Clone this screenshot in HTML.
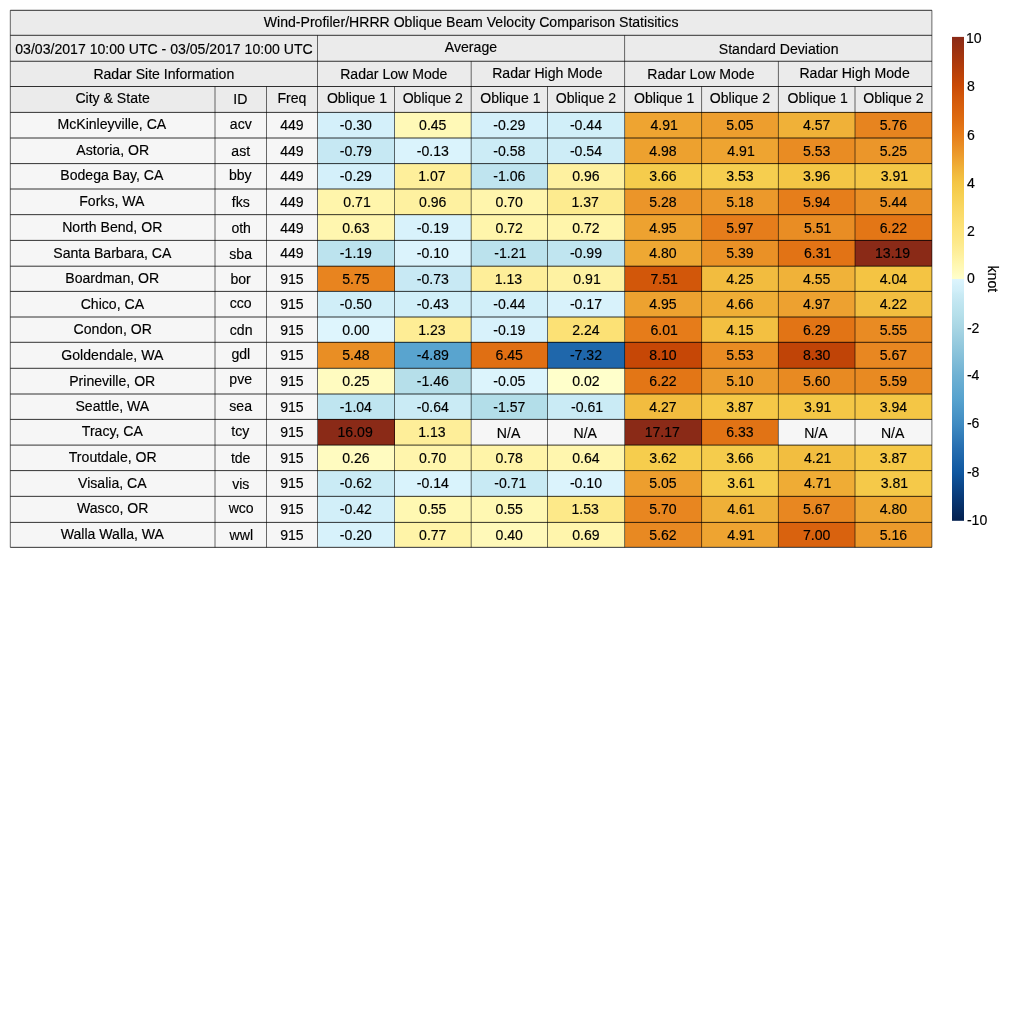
<!DOCTYPE html>
<html lang="en"><head><meta charset="utf-8"><title>Wind-Profiler/HRRR Oblique Beam Velocity Comparison Statisitics</title>
<style>html,body{margin:0;padding:0;background:#fff;}svg{display:block;}text{font-family:'Liberation Sans', sans-serif;font-size:14.08px;fill:#000;stroke:#000;stroke-width:0.15px;}</style></head><body>
<svg width="1024" height="1024" viewBox="0 0 1024 1024">
<defs><linearGradient id="cb" x1="0" y1="0" x2="0" y2="1">
<stop offset="0.0000" stop-color="#8a2a17"/>
<stop offset="0.0500" stop-color="#aa380c"/>
<stop offset="0.1000" stop-color="#c94905"/>
<stop offset="0.1250" stop-color="#d2570a"/>
<stop offset="0.1500" stop-color="#d9620e"/>
<stop offset="0.1750" stop-color="#df6e12"/>
<stop offset="0.2000" stop-color="#e67c1a"/>
<stop offset="0.2250" stop-color="#e98d24"/>
<stop offset="0.2500" stop-color="#eda02f"/>
<stop offset="0.2750" stop-color="#f0b43a"/>
<stop offset="0.3000" stop-color="#f4c544"/>
<stop offset="0.3250" stop-color="#f6cf50"/>
<stop offset="0.3500" stop-color="#f9d660"/>
<stop offset="0.4000" stop-color="#fde47c"/>
<stop offset="0.4250" stop-color="#fde98a"/>
<stop offset="0.4500" stop-color="#fef09e"/>
<stop offset="0.4700" stop-color="#fff7b0"/>
<stop offset="0.4875" stop-color="#fffbc0"/>
<stop offset="0.5000" stop-color="#ffffcc"/>
<stop offset="0.5000" stop-color="#def5fd"/>
<stop offset="0.5150" stop-color="#d4f0fa"/>
<stop offset="0.5250" stop-color="#d0eef8"/>
<stop offset="0.5310" stop-color="#caebf5"/>
<stop offset="0.5400" stop-color="#c6e8f3"/>
<stop offset="0.5500" stop-color="#c0e5f0"/>
<stop offset="0.5750" stop-color="#b5dfea"/>
<stop offset="0.6000" stop-color="#a9d6e4"/>
<stop offset="0.6500" stop-color="#8cc4db"/>
<stop offset="0.7000" stop-color="#6fb1d3"/>
<stop offset="0.7500" stop-color="#56a2ce"/>
<stop offset="0.8000" stop-color="#3f8bc2"/>
<stop offset="0.8500" stop-color="#266eb0"/>
<stop offset="0.9000" stop-color="#0f57a0"/>
<stop offset="0.9500" stop-color="#083a78"/>
<stop offset="1.0000" stop-color="#04204f"/>
</linearGradient></defs>
<rect x="0" y="0" width="1024" height="1024" fill="#ffffff"/>
<g shape-rendering="crispEdges">
<rect x="10.30" y="10.30" width="921.60" height="25.00" fill="#ebebeb"/>
<rect x="10.30" y="35.30" width="307.20" height="25.95" fill="#ebebeb"/>
<rect x="317.50" y="35.30" width="307.10" height="25.95" fill="#ebebeb"/>
<rect x="624.60" y="35.30" width="307.30" height="25.95" fill="#ebebeb"/>
<rect x="10.30" y="61.25" width="307.20" height="25.25" fill="#ebebeb"/>
<rect x="317.50" y="61.25" width="153.70" height="25.25" fill="#ebebeb"/>
<rect x="471.20" y="61.25" width="153.40" height="25.25" fill="#ebebeb"/>
<rect x="624.60" y="61.25" width="153.80" height="25.25" fill="#ebebeb"/>
<rect x="778.40" y="61.25" width="153.50" height="25.25" fill="#ebebeb"/>
<rect x="10.30" y="86.50" width="204.70" height="25.90" fill="#ebebeb"/>
<rect x="215.00" y="86.50" width="51.50" height="25.90" fill="#ebebeb"/>
<rect x="266.50" y="86.50" width="51.00" height="25.90" fill="#ebebeb"/>
<rect x="317.50" y="86.50" width="77.00" height="25.90" fill="#ebebeb"/>
<rect x="394.50" y="86.50" width="76.70" height="25.90" fill="#ebebeb"/>
<rect x="471.20" y="86.50" width="76.30" height="25.90" fill="#ebebeb"/>
<rect x="547.50" y="86.50" width="77.10" height="25.90" fill="#ebebeb"/>
<rect x="624.60" y="86.50" width="77.00" height="25.90" fill="#ebebeb"/>
<rect x="701.60" y="86.50" width="76.80" height="25.90" fill="#ebebeb"/>
<rect x="778.40" y="86.50" width="76.60" height="25.90" fill="#ebebeb"/>
<rect x="855.00" y="86.50" width="76.90" height="25.90" fill="#ebebeb"/>
<rect x="10.30" y="112.40" width="204.70" height="25.60" fill="#f6f6f6"/>
<rect x="215.00" y="112.40" width="51.50" height="25.60" fill="#f6f6f6"/>
<rect x="266.50" y="112.40" width="51.00" height="25.60" fill="#f6f6f6"/>
<rect x="317.50" y="112.40" width="77.00" height="25.60" fill="#d4f0fa"/>
<rect x="394.50" y="112.40" width="76.70" height="25.60" fill="#fff9b7"/>
<rect x="471.20" y="112.40" width="76.30" height="25.60" fill="#d4f0fa"/>
<rect x="547.50" y="112.40" width="77.10" height="25.60" fill="#d1eff9"/>
<rect x="624.60" y="112.40" width="77.00" height="25.60" fill="#eea431"/>
<rect x="701.60" y="112.40" width="76.80" height="25.60" fill="#ed9e2e"/>
<rect x="778.40" y="112.40" width="76.60" height="25.60" fill="#f0b138"/>
<rect x="855.00" y="112.40" width="76.90" height="25.60" fill="#e7841f"/>
<rect x="10.30" y="138.00" width="204.70" height="25.60" fill="#f6f6f6"/>
<rect x="215.00" y="138.00" width="51.50" height="25.60" fill="#f6f6f6"/>
<rect x="266.50" y="138.00" width="51.00" height="25.60" fill="#f6f6f6"/>
<rect x="317.50" y="138.00" width="77.00" height="25.60" fill="#c6e8f3"/>
<rect x="394.50" y="138.00" width="76.70" height="25.60" fill="#daf3fc"/>
<rect x="471.20" y="138.00" width="76.30" height="25.60" fill="#ccecf6"/>
<rect x="547.50" y="138.00" width="77.10" height="25.60" fill="#ceedf7"/>
<rect x="624.60" y="138.00" width="77.00" height="25.60" fill="#eda12f"/>
<rect x="701.60" y="138.00" width="76.80" height="25.60" fill="#eea431"/>
<rect x="778.40" y="138.00" width="76.60" height="25.60" fill="#e98c23"/>
<rect x="855.00" y="138.00" width="76.90" height="25.60" fill="#eb962a"/>
<rect x="10.30" y="163.60" width="204.70" height="25.40" fill="#f6f6f6"/>
<rect x="215.00" y="163.60" width="51.50" height="25.40" fill="#f6f6f6"/>
<rect x="266.50" y="163.60" width="51.00" height="25.40" fill="#f6f6f6"/>
<rect x="317.50" y="163.60" width="77.00" height="25.40" fill="#d4f0fa"/>
<rect x="394.50" y="163.60" width="76.70" height="25.40" fill="#feef9b"/>
<rect x="471.20" y="163.60" width="76.30" height="25.40" fill="#bfe4ef"/>
<rect x="547.50" y="163.60" width="77.10" height="25.40" fill="#fef1a0"/>
<rect x="624.60" y="163.60" width="77.00" height="25.40" fill="#f5cc4c"/>
<rect x="701.60" y="163.60" width="76.80" height="25.40" fill="#f6ce4f"/>
<rect x="778.40" y="163.60" width="76.60" height="25.40" fill="#f4c645"/>
<rect x="855.00" y="163.60" width="76.90" height="25.40" fill="#f4c746"/>
<rect x="10.30" y="189.00" width="204.70" height="25.65" fill="#f6f6f6"/>
<rect x="215.00" y="189.00" width="51.50" height="25.65" fill="#f6f6f6"/>
<rect x="266.50" y="189.00" width="51.00" height="25.65" fill="#f6f6f6"/>
<rect x="317.50" y="189.00" width="77.00" height="25.65" fill="#fff5ab"/>
<rect x="394.50" y="189.00" width="76.70" height="25.65" fill="#fef1a0"/>
<rect x="471.20" y="189.00" width="76.30" height="25.65" fill="#fff5ac"/>
<rect x="547.50" y="189.00" width="77.10" height="25.65" fill="#fdeb8f"/>
<rect x="624.60" y="189.00" width="77.00" height="25.65" fill="#eb9529"/>
<rect x="701.60" y="189.00" width="76.80" height="25.65" fill="#ec992b"/>
<rect x="778.40" y="189.00" width="76.60" height="25.65" fill="#e67e1b"/>
<rect x="855.00" y="189.00" width="76.90" height="25.65" fill="#e98f25"/>
<rect x="10.30" y="214.65" width="204.70" height="25.75" fill="#f6f6f6"/>
<rect x="215.00" y="214.65" width="51.50" height="25.75" fill="#f6f6f6"/>
<rect x="266.50" y="214.65" width="51.00" height="25.75" fill="#f6f6f6"/>
<rect x="317.50" y="214.65" width="77.00" height="25.75" fill="#fff6af"/>
<rect x="394.50" y="214.65" width="76.70" height="25.75" fill="#d8f2fb"/>
<rect x="471.20" y="214.65" width="76.30" height="25.75" fill="#fff5ab"/>
<rect x="547.50" y="214.65" width="77.10" height="25.75" fill="#fff5ab"/>
<rect x="624.60" y="214.65" width="77.00" height="25.75" fill="#eda230"/>
<rect x="701.60" y="214.65" width="76.80" height="25.75" fill="#e67d1b"/>
<rect x="778.40" y="214.65" width="76.60" height="25.75" fill="#e98d24"/>
<rect x="855.00" y="214.65" width="76.90" height="25.75" fill="#e37616"/>
<rect x="10.30" y="240.40" width="204.70" height="25.80" fill="#f6f6f6"/>
<rect x="215.00" y="240.40" width="51.50" height="25.80" fill="#f6f6f6"/>
<rect x="266.50" y="240.40" width="51.00" height="25.80" fill="#f6f6f6"/>
<rect x="317.50" y="240.40" width="77.00" height="25.80" fill="#bce3ee"/>
<rect x="394.50" y="240.40" width="76.70" height="25.80" fill="#dbf3fc"/>
<rect x="471.20" y="240.40" width="76.30" height="25.80" fill="#bbe2ed"/>
<rect x="547.50" y="240.40" width="77.10" height="25.80" fill="#c0e5f0"/>
<rect x="624.60" y="240.40" width="77.00" height="25.80" fill="#eea833"/>
<rect x="701.60" y="240.40" width="76.80" height="25.80" fill="#ea9126"/>
<rect x="778.40" y="240.40" width="76.60" height="25.80" fill="#e27315"/>
<rect x="855.00" y="240.40" width="76.90" height="25.80" fill="#8a2a17"/>
<rect x="10.30" y="266.20" width="204.70" height="25.20" fill="#f6f6f6"/>
<rect x="215.00" y="266.20" width="51.50" height="25.20" fill="#f6f6f6"/>
<rect x="266.50" y="266.20" width="51.00" height="25.20" fill="#f6f6f6"/>
<rect x="317.50" y="266.20" width="77.00" height="25.20" fill="#e8841f"/>
<rect x="394.50" y="266.20" width="76.70" height="25.20" fill="#c8e9f4"/>
<rect x="471.20" y="266.20" width="76.30" height="25.20" fill="#feee99"/>
<rect x="547.50" y="266.20" width="77.10" height="25.20" fill="#fef2a2"/>
<rect x="624.60" y="266.20" width="77.00" height="25.20" fill="#d2570a"/>
<rect x="701.60" y="266.20" width="76.80" height="25.20" fill="#f2bc3f"/>
<rect x="778.40" y="266.20" width="76.60" height="25.20" fill="#f0b239"/>
<rect x="855.00" y="266.20" width="76.90" height="25.20" fill="#f4c443"/>
<rect x="10.30" y="291.40" width="204.70" height="25.60" fill="#f6f6f6"/>
<rect x="215.00" y="291.40" width="51.50" height="25.60" fill="#f6f6f6"/>
<rect x="266.50" y="291.40" width="51.00" height="25.60" fill="#f6f6f6"/>
<rect x="317.50" y="291.40" width="77.00" height="25.60" fill="#d0eef8"/>
<rect x="394.50" y="291.40" width="76.70" height="25.60" fill="#d1eff9"/>
<rect x="471.20" y="291.40" width="76.30" height="25.60" fill="#d1eff9"/>
<rect x="547.50" y="291.40" width="77.10" height="25.60" fill="#d8f2fb"/>
<rect x="624.60" y="291.40" width="77.00" height="25.60" fill="#eda230"/>
<rect x="701.60" y="291.40" width="76.80" height="25.60" fill="#efae36"/>
<rect x="778.40" y="291.40" width="76.60" height="25.60" fill="#eda130"/>
<rect x="855.00" y="291.40" width="76.90" height="25.60" fill="#f2be40"/>
<rect x="10.30" y="317.00" width="204.70" height="25.30" fill="#f6f6f6"/>
<rect x="215.00" y="317.00" width="51.50" height="25.30" fill="#f6f6f6"/>
<rect x="266.50" y="317.00" width="51.00" height="25.30" fill="#f6f6f6"/>
<rect x="317.50" y="317.00" width="77.00" height="25.30" fill="#def5fd"/>
<rect x="394.50" y="317.00" width="76.70" height="25.30" fill="#feed95"/>
<rect x="471.20" y="317.00" width="76.30" height="25.30" fill="#d8f2fb"/>
<rect x="547.50" y="317.00" width="77.10" height="25.30" fill="#fce175"/>
<rect x="624.60" y="317.00" width="77.00" height="25.30" fill="#e67c1a"/>
<rect x="701.60" y="317.00" width="76.80" height="25.30" fill="#f3c041"/>
<rect x="778.40" y="317.00" width="76.60" height="25.30" fill="#e27415"/>
<rect x="855.00" y="317.00" width="76.90" height="25.30" fill="#e98b23"/>
<rect x="10.30" y="342.30" width="204.70" height="26.00" fill="#f6f6f6"/>
<rect x="215.00" y="342.30" width="51.50" height="26.00" fill="#f6f6f6"/>
<rect x="266.50" y="342.30" width="51.00" height="26.00" fill="#f6f6f6"/>
<rect x="317.50" y="342.30" width="77.00" height="26.00" fill="#e98e24"/>
<rect x="394.50" y="342.30" width="76.70" height="26.00" fill="#59a4cf"/>
<rect x="471.20" y="342.30" width="76.30" height="26.00" fill="#e06f13"/>
<rect x="547.50" y="342.30" width="77.10" height="26.00" fill="#1f67ab"/>
<rect x="624.60" y="342.30" width="77.00" height="26.00" fill="#c64706"/>
<rect x="701.60" y="342.30" width="76.80" height="26.00" fill="#e98c23"/>
<rect x="778.40" y="342.30" width="76.60" height="26.00" fill="#c04407"/>
<rect x="855.00" y="342.30" width="76.90" height="26.00" fill="#e88721"/>
<rect x="10.30" y="368.30" width="204.70" height="25.70" fill="#f6f6f6"/>
<rect x="215.00" y="368.30" width="51.50" height="25.70" fill="#f6f6f6"/>
<rect x="266.50" y="368.30" width="51.00" height="25.70" fill="#f6f6f6"/>
<rect x="317.50" y="368.30" width="77.00" height="25.70" fill="#fffbc0"/>
<rect x="394.50" y="368.30" width="76.70" height="25.70" fill="#b6dfea"/>
<rect x="471.20" y="368.30" width="76.30" height="25.70" fill="#dcf4fc"/>
<rect x="547.50" y="368.30" width="77.10" height="25.70" fill="#ffffcb"/>
<rect x="624.60" y="368.30" width="77.00" height="25.70" fill="#e37616"/>
<rect x="701.60" y="368.30" width="76.80" height="25.70" fill="#ec9c2d"/>
<rect x="778.40" y="368.30" width="76.60" height="25.70" fill="#e88a22"/>
<rect x="855.00" y="368.30" width="76.90" height="25.70" fill="#e88a22"/>
<rect x="10.30" y="394.00" width="204.70" height="25.40" fill="#f6f6f6"/>
<rect x="215.00" y="394.00" width="51.50" height="25.40" fill="#f6f6f6"/>
<rect x="266.50" y="394.00" width="51.00" height="25.40" fill="#f6f6f6"/>
<rect x="317.50" y="394.00" width="77.00" height="25.40" fill="#bfe5f0"/>
<rect x="394.50" y="394.00" width="76.70" height="25.40" fill="#caebf5"/>
<rect x="471.20" y="394.00" width="76.30" height="25.40" fill="#b3dee9"/>
<rect x="547.50" y="394.00" width="77.10" height="25.40" fill="#caebf5"/>
<rect x="624.60" y="394.00" width="77.00" height="25.40" fill="#f2bc3f"/>
<rect x="701.60" y="394.00" width="76.80" height="25.40" fill="#f5c847"/>
<rect x="778.40" y="394.00" width="76.60" height="25.40" fill="#f4c746"/>
<rect x="855.00" y="394.00" width="76.90" height="25.40" fill="#f4c645"/>
<rect x="10.30" y="419.40" width="204.70" height="25.70" fill="#f6f6f6"/>
<rect x="215.00" y="419.40" width="51.50" height="25.70" fill="#f6f6f6"/>
<rect x="266.50" y="419.40" width="51.00" height="25.70" fill="#f6f6f6"/>
<rect x="317.50" y="419.40" width="77.00" height="25.70" fill="#8a2a17"/>
<rect x="394.50" y="419.40" width="76.70" height="25.70" fill="#feee99"/>
<rect x="471.20" y="419.40" width="76.30" height="25.70" fill="#f6f6f6"/>
<rect x="547.50" y="419.40" width="77.10" height="25.70" fill="#f6f6f6"/>
<rect x="624.60" y="419.40" width="77.00" height="25.70" fill="#8a2a17"/>
<rect x="701.60" y="419.40" width="76.80" height="25.70" fill="#e17315"/>
<rect x="778.40" y="419.40" width="76.60" height="25.70" fill="#f6f6f6"/>
<rect x="855.00" y="419.40" width="76.90" height="25.70" fill="#f6f6f6"/>
<rect x="10.30" y="445.10" width="204.70" height="25.50" fill="#f6f6f6"/>
<rect x="215.00" y="445.10" width="51.50" height="25.50" fill="#f6f6f6"/>
<rect x="266.50" y="445.10" width="51.00" height="25.50" fill="#f6f6f6"/>
<rect x="317.50" y="445.10" width="77.00" height="25.50" fill="#fffbc0"/>
<rect x="394.50" y="445.10" width="76.70" height="25.50" fill="#fff5ac"/>
<rect x="471.20" y="445.10" width="76.30" height="25.50" fill="#fff4a8"/>
<rect x="547.50" y="445.10" width="77.10" height="25.50" fill="#fff6ae"/>
<rect x="624.60" y="445.10" width="77.00" height="25.50" fill="#f6cd4d"/>
<rect x="701.60" y="445.10" width="76.80" height="25.50" fill="#f5cc4c"/>
<rect x="778.40" y="445.10" width="76.60" height="25.50" fill="#f2be40"/>
<rect x="855.00" y="445.10" width="76.90" height="25.50" fill="#f5c847"/>
<rect x="10.30" y="470.60" width="204.70" height="25.75" fill="#f6f6f6"/>
<rect x="215.00" y="470.60" width="51.50" height="25.75" fill="#f6f6f6"/>
<rect x="266.50" y="470.60" width="51.00" height="25.75" fill="#f6f6f6"/>
<rect x="317.50" y="470.60" width="77.00" height="25.75" fill="#caebf5"/>
<rect x="394.50" y="470.60" width="76.70" height="25.75" fill="#d9f3fc"/>
<rect x="471.20" y="470.60" width="76.30" height="25.75" fill="#c8eaf4"/>
<rect x="547.50" y="470.60" width="77.10" height="25.75" fill="#dbf3fc"/>
<rect x="624.60" y="470.60" width="77.00" height="25.75" fill="#ed9e2e"/>
<rect x="701.60" y="470.60" width="76.80" height="25.75" fill="#f6cd4d"/>
<rect x="778.40" y="470.60" width="76.60" height="25.75" fill="#efac35"/>
<rect x="855.00" y="470.60" width="76.90" height="25.75" fill="#f5c949"/>
<rect x="10.30" y="496.35" width="204.70" height="26.05" fill="#f6f6f6"/>
<rect x="215.00" y="496.35" width="51.50" height="26.05" fill="#f6f6f6"/>
<rect x="266.50" y="496.35" width="51.00" height="26.05" fill="#f6f6f6"/>
<rect x="317.50" y="496.35" width="77.00" height="26.05" fill="#d2eff9"/>
<rect x="394.50" y="496.35" width="76.70" height="26.05" fill="#fff8b2"/>
<rect x="471.20" y="496.35" width="76.30" height="26.05" fill="#fff8b2"/>
<rect x="547.50" y="496.35" width="77.10" height="26.05" fill="#fde989"/>
<rect x="624.60" y="496.35" width="77.00" height="26.05" fill="#e88620"/>
<rect x="701.60" y="496.35" width="76.80" height="26.05" fill="#efb038"/>
<rect x="778.40" y="496.35" width="76.60" height="26.05" fill="#e88721"/>
<rect x="855.00" y="496.35" width="76.90" height="26.05" fill="#eea833"/>
<rect x="10.30" y="522.40" width="204.70" height="24.95" fill="#f6f6f6"/>
<rect x="215.00" y="522.40" width="51.50" height="24.95" fill="#f6f6f6"/>
<rect x="266.50" y="522.40" width="51.00" height="24.95" fill="#f6f6f6"/>
<rect x="317.50" y="522.40" width="77.00" height="24.95" fill="#d7f2fb"/>
<rect x="394.50" y="522.40" width="76.70" height="24.95" fill="#fff4a8"/>
<rect x="471.20" y="522.40" width="76.30" height="24.95" fill="#fff9b9"/>
<rect x="547.50" y="522.40" width="77.10" height="24.95" fill="#fff5ac"/>
<rect x="624.60" y="522.40" width="77.00" height="24.95" fill="#e88922"/>
<rect x="701.60" y="522.40" width="76.80" height="24.95" fill="#eea431"/>
<rect x="778.40" y="522.40" width="76.60" height="24.95" fill="#d9620e"/>
<rect x="855.00" y="522.40" width="76.90" height="24.95" fill="#ec9a2b"/>
</g>
<g stroke="#000000" fill="none">
<line x1="10.30" y1="10.30" x2="931.90" y2="10.30" stroke-width="0.8"/>
<line x1="10.30" y1="35.30" x2="931.90" y2="35.30" stroke-width="0.8"/>
<line x1="10.30" y1="61.25" x2="931.90" y2="61.25" stroke-width="0.8"/>
<line x1="10.30" y1="86.50" x2="931.90" y2="86.50" stroke-width="0.8"/>
<line x1="10.30" y1="112.40" x2="931.90" y2="112.40" stroke-width="0.8"/>
<line x1="10.30" y1="138.00" x2="931.90" y2="138.00" stroke-width="0.8"/>
<line x1="10.30" y1="163.60" x2="931.90" y2="163.60" stroke-width="0.8"/>
<line x1="10.30" y1="189.00" x2="931.90" y2="189.00" stroke-width="0.8"/>
<line x1="10.30" y1="214.65" x2="931.90" y2="214.65" stroke-width="0.8"/>
<line x1="10.30" y1="240.40" x2="931.90" y2="240.40" stroke-width="0.8"/>
<line x1="10.30" y1="266.20" x2="931.90" y2="266.20" stroke-width="0.8"/>
<line x1="10.30" y1="291.40" x2="931.90" y2="291.40" stroke-width="0.8"/>
<line x1="10.30" y1="317.00" x2="931.90" y2="317.00" stroke-width="0.8"/>
<line x1="10.30" y1="342.30" x2="931.90" y2="342.30" stroke-width="0.8"/>
<line x1="10.30" y1="368.30" x2="931.90" y2="368.30" stroke-width="0.8"/>
<line x1="10.30" y1="394.00" x2="931.90" y2="394.00" stroke-width="0.8"/>
<line x1="10.30" y1="419.40" x2="931.90" y2="419.40" stroke-width="0.8"/>
<line x1="10.30" y1="445.10" x2="931.90" y2="445.10" stroke-width="0.8"/>
<line x1="10.30" y1="470.60" x2="931.90" y2="470.60" stroke-width="0.8"/>
<line x1="10.30" y1="496.35" x2="931.90" y2="496.35" stroke-width="0.8"/>
<line x1="10.30" y1="522.40" x2="931.90" y2="522.40" stroke-width="0.8"/>
<line x1="10.30" y1="547.35" x2="931.90" y2="547.35" stroke-width="0.8"/>
<line x1="10.30" y1="10.30" x2="10.30" y2="547.35" stroke-width="0.58"/>
<line x1="215.00" y1="86.50" x2="215.00" y2="547.35" stroke-width="0.58"/>
<line x1="266.50" y1="86.50" x2="266.50" y2="547.35" stroke-width="0.58"/>
<line x1="317.50" y1="35.30" x2="317.50" y2="547.35" stroke-width="0.58"/>
<line x1="394.50" y1="86.50" x2="394.50" y2="547.35" stroke-width="0.58"/>
<line x1="471.20" y1="61.25" x2="471.20" y2="547.35" stroke-width="0.58"/>
<line x1="547.50" y1="86.50" x2="547.50" y2="547.35" stroke-width="0.58"/>
<line x1="624.60" y1="35.30" x2="624.60" y2="547.35" stroke-width="0.58"/>
<line x1="701.60" y1="86.50" x2="701.60" y2="547.35" stroke-width="0.58"/>
<line x1="778.40" y1="61.25" x2="778.40" y2="547.35" stroke-width="0.58"/>
<line x1="855.00" y1="86.50" x2="855.00" y2="547.35" stroke-width="0.58"/>
<line x1="931.90" y1="10.30" x2="931.90" y2="547.35" stroke-width="0.58"/>
</g>
<rect x="952.00" y="36.90" width="12.00" height="483.90" fill="url(#cb)"/>
<g>
<text x="263.79" y="26.80">Wind-Profiler/HRRR Oblique Beam Velocity Comparison Statisitics</text>
<text x="15.28" y="53.77">03/03/2017 10:00 UTC - 03/05/2017 10:00 UTC</text>
<text x="444.87" y="51.77">Average</text>
<text x="718.79" y="53.77">Standard Deviation</text>
<text x="93.39" y="79.38">Radar Site Information</text>
<text x="340.16" y="79.38">Radar Low Mode</text>
<text x="492.15" y="77.88">Radar High Mode</text>
<text x="647.31" y="79.38">Radar Low Mode</text>
<text x="799.40" y="77.88">Radar High Mode</text>
<text x="75.40" y="103.45">City &amp; State</text>
<text x="233.29" y="104.45">ID</text>
<text x="277.44" y="102.95">Freq</text>
<text x="326.89" y="103.45">Oblique 1</text>
<text x="402.63" y="103.45">Oblique 2</text>
<text x="480.24" y="103.45">Oblique 1</text>
<text x="555.83" y="103.45">Oblique 2</text>
<text x="633.99" y="103.45">Oblique 1</text>
<text x="709.78" y="103.45">Oblique 2</text>
<text x="787.59" y="103.45">Oblique 1</text>
<text x="863.23" y="103.45">Oblique 2</text>
<text x="57.47" y="129.20">McKinleyville, CA</text>
<text x="229.82" y="129.20">acv</text>
<text x="280.17" y="130.20">449</text>
<text x="339.87" y="130.20">-0.30</text>
<text x="419.06" y="130.20">0.45</text>
<text x="493.22" y="130.20">-0.29</text>
<text x="569.92" y="130.20">-0.44</text>
<text x="650.42" y="130.20">4.91</text>
<text x="726.21" y="130.20">5.05</text>
<text x="802.91" y="130.20">4.57</text>
<text x="879.66" y="130.20">5.76</text>
<text x="76.36" y="155.30">Astoria, OR</text>
<text x="231.32" y="155.80">ast</text>
<text x="280.17" y="155.80">449</text>
<text x="339.87" y="155.80">-0.79</text>
<text x="416.72" y="155.80">-0.13</text>
<text x="493.22" y="155.80">-0.58</text>
<text x="569.92" y="155.80">-0.54</text>
<text x="649.31" y="155.80">4.98</text>
<text x="727.32" y="155.80">4.91</text>
<text x="802.91" y="155.80">5.53</text>
<text x="879.66" y="155.80">5.25</text>
<text x="60.32" y="180.30">Bodega Bay, CA</text>
<text x="228.92" y="180.30">bby</text>
<text x="280.17" y="181.30">449</text>
<text x="339.87" y="181.30">-0.29</text>
<text x="418.29" y="181.30">1.07</text>
<text x="493.22" y="181.30">-1.06</text>
<text x="572.26" y="181.30">0.96</text>
<text x="649.31" y="181.30">3.66</text>
<text x="726.21" y="181.30">3.53</text>
<text x="802.91" y="181.30">3.96</text>
<text x="880.77" y="181.30">3.91</text>
<text x="79.26" y="206.32">Forks, WA</text>
<text x="231.77" y="207.32">fks</text>
<text x="280.17" y="206.82">449</text>
<text x="343.32" y="206.82">0.71</text>
<text x="419.06" y="206.82">0.96</text>
<text x="495.56" y="206.82">0.70</text>
<text x="571.49" y="206.82">1.37</text>
<text x="649.31" y="206.82">5.28</text>
<text x="726.21" y="206.82">5.18</text>
<text x="802.91" y="206.82">5.94</text>
<text x="879.66" y="206.82">5.44</text>
<text x="62.16" y="232.03">North Bend, OR</text>
<text x="231.38" y="233.03">oth</text>
<text x="280.17" y="232.53">449</text>
<text x="342.21" y="232.53">0.63</text>
<text x="416.72" y="232.53">-0.19</text>
<text x="495.56" y="232.53">0.72</text>
<text x="572.26" y="232.53">0.72</text>
<text x="649.31" y="232.53">4.95</text>
<text x="726.21" y="232.53">5.97</text>
<text x="804.02" y="232.53">5.51</text>
<text x="879.66" y="232.53">6.22</text>
<text x="53.26" y="257.80">Santa Barbara, CA</text>
<text x="229.32" y="258.80">sba</text>
<text x="280.17" y="258.30">449</text>
<text x="339.87" y="258.30">-1.19</text>
<text x="416.72" y="258.30">-0.10</text>
<text x="494.33" y="258.30">-1.21</text>
<text x="569.92" y="258.30">-0.99</text>
<text x="649.31" y="258.30">4.80</text>
<text x="726.21" y="258.30">5.39</text>
<text x="804.02" y="258.30">6.31</text>
<text x="874.98" y="258.30">13.19</text>
<text x="65.29" y="283.30">Boardman, OR</text>
<text x="230.42" y="284.30">bor</text>
<text x="280.17" y="283.80">915</text>
<text x="342.21" y="283.80">5.75</text>
<text x="416.72" y="283.80">-0.73</text>
<text x="494.79" y="283.80">1.13</text>
<text x="573.37" y="283.80">0.91</text>
<text x="650.42" y="283.80">7.51</text>
<text x="726.21" y="283.80">4.25</text>
<text x="802.91" y="283.80">4.55</text>
<text x="879.66" y="283.80">4.04</text>
<text x="80.66" y="308.70">Chico, CA</text>
<text x="229.71" y="308.20">cco</text>
<text x="280.17" y="309.20">915</text>
<text x="339.87" y="309.20">-0.50</text>
<text x="416.72" y="309.20">-0.43</text>
<text x="493.22" y="309.20">-0.44</text>
<text x="569.92" y="309.20">-0.17</text>
<text x="649.31" y="309.20">4.95</text>
<text x="726.21" y="309.20">4.66</text>
<text x="802.91" y="309.20">4.97</text>
<text x="879.66" y="309.20">4.22</text>
<text x="73.61" y="334.15">Condon, OR</text>
<text x="229.82" y="335.15">cdn</text>
<text x="280.17" y="334.65">915</text>
<text x="342.21" y="334.65">0.00</text>
<text x="418.29" y="334.65">1.23</text>
<text x="493.22" y="334.65">-0.19</text>
<text x="572.26" y="334.65">2.24</text>
<text x="650.42" y="334.65">6.01</text>
<text x="726.21" y="334.65">4.15</text>
<text x="802.91" y="334.65">6.29</text>
<text x="879.66" y="334.65">5.55</text>
<text x="61.35" y="359.80">Goldendale, WA</text>
<text x="231.42" y="359.30">gdl</text>
<text x="280.17" y="360.30">915</text>
<text x="342.21" y="360.30">5.48</text>
<text x="416.72" y="360.30">-4.89</text>
<text x="495.56" y="360.30">6.45</text>
<text x="569.92" y="360.30">-7.32</text>
<text x="649.31" y="360.30">8.10</text>
<text x="726.21" y="360.30">5.53</text>
<text x="802.91" y="360.30">8.30</text>
<text x="879.66" y="360.30">5.67</text>
<text x="69.21" y="385.65">Prineville, OR</text>
<text x="229.32" y="383.65">pve</text>
<text x="280.17" y="386.15">915</text>
<text x="342.21" y="386.15">0.25</text>
<text x="416.72" y="386.15">-1.46</text>
<text x="493.22" y="386.15">-0.05</text>
<text x="572.26" y="386.15">0.02</text>
<text x="649.31" y="386.15">6.22</text>
<text x="726.21" y="386.15">5.10</text>
<text x="802.91" y="386.15">5.60</text>
<text x="879.66" y="386.15">5.59</text>
<text x="75.44" y="411.20">Seattle, WA</text>
<text x="229.32" y="410.70">sea</text>
<text x="280.17" y="411.70">915</text>
<text x="339.87" y="411.70">-1.04</text>
<text x="416.72" y="411.70">-0.64</text>
<text x="493.22" y="411.70">-1.57</text>
<text x="571.03" y="411.70">-0.61</text>
<text x="649.31" y="411.70">4.27</text>
<text x="726.21" y="411.70">3.87</text>
<text x="804.02" y="411.70">3.91</text>
<text x="879.66" y="411.70">3.94</text>
<text x="81.84" y="435.75">Tracy, CA</text>
<text x="231.27" y="435.75">tcy</text>
<text x="280.17" y="437.25">915</text>
<text x="337.53" y="437.25">16.09</text>
<text x="418.29" y="437.25">1.13</text>
<text x="496.81" y="437.75">N/A</text>
<text x="573.51" y="437.75">N/A</text>
<text x="644.63" y="437.25">17.17</text>
<text x="726.21" y="437.25">6.33</text>
<text x="804.16" y="437.75">N/A</text>
<text x="880.91" y="437.75">N/A</text>
<text x="68.79" y="462.35">Troutdale, OR</text>
<text x="230.88" y="463.35">tde</text>
<text x="280.17" y="462.85">915</text>
<text x="342.21" y="462.85">0.26</text>
<text x="419.06" y="462.85">0.70</text>
<text x="495.56" y="462.85">0.78</text>
<text x="572.26" y="462.85">0.64</text>
<text x="649.31" y="462.85">3.62</text>
<text x="726.21" y="462.85">3.66</text>
<text x="804.02" y="462.85">4.21</text>
<text x="879.66" y="462.85">3.87</text>
<text x="78.05" y="487.98">Visalia, CA</text>
<text x="232.17" y="488.98">vis</text>
<text x="280.17" y="488.48">915</text>
<text x="339.87" y="488.48">-0.62</text>
<text x="416.72" y="488.48">-0.14</text>
<text x="494.33" y="488.48">-0.71</text>
<text x="569.92" y="488.48">-0.10</text>
<text x="649.31" y="488.48">5.05</text>
<text x="727.32" y="488.48">3.61</text>
<text x="804.02" y="488.48">4.71</text>
<text x="880.77" y="488.48">3.81</text>
<text x="77.01" y="513.38">Wasco, OR</text>
<text x="228.65" y="513.38">wco</text>
<text x="280.17" y="514.38">915</text>
<text x="339.87" y="514.38">-0.42</text>
<text x="419.06" y="514.38">0.55</text>
<text x="495.56" y="514.38">0.55</text>
<text x="571.49" y="514.38">1.53</text>
<text x="649.31" y="514.38">5.70</text>
<text x="727.32" y="514.38">4.61</text>
<text x="802.91" y="514.38">5.67</text>
<text x="879.66" y="514.38">4.80</text>
<text x="60.72" y="539.38">Walla Walla, WA</text>
<text x="229.58" y="540.38">wwl</text>
<text x="280.17" y="539.88">915</text>
<text x="339.87" y="539.88">-0.20</text>
<text x="419.06" y="539.88">0.77</text>
<text x="495.56" y="539.88">0.40</text>
<text x="572.26" y="539.88">0.69</text>
<text x="649.31" y="539.88">5.62</text>
<text x="727.32" y="539.88">4.91</text>
<text x="802.91" y="539.88">7.00</text>
<text x="879.66" y="539.88">5.16</text>
<text x="966.90" y="525.00">-10</text>
<text x="966.90" y="477.40">-8</text>
<text x="966.90" y="427.80">-6</text>
<text x="966.90" y="380.00">-4</text>
<text x="966.90" y="332.60">-2</text>
<text x="966.90" y="283.00">0</text>
<text x="966.90" y="235.50">2</text>
<text x="966.90" y="187.90">4</text>
<text x="966.90" y="140.30">6</text>
<text x="966.90" y="90.55">8</text>
<text x="965.90" y="43.10">10</text>
<text transform="translate(987.80,265.55) rotate(90)" x="0" y="0">knot</text>
</g></svg></body></html>
